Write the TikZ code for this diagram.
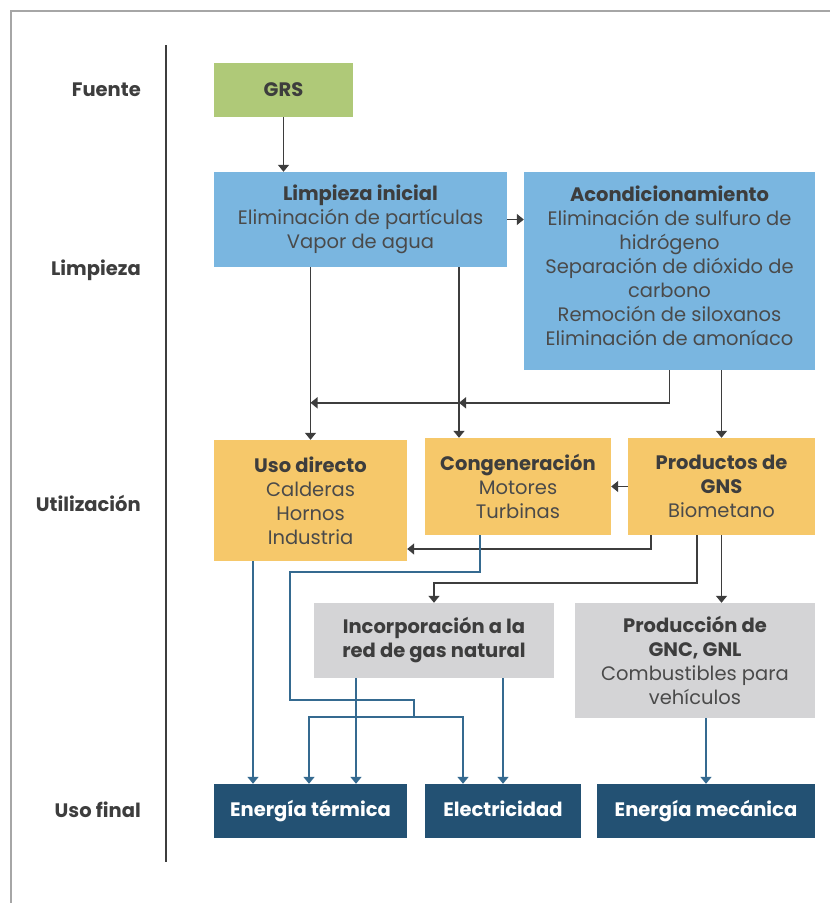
\documentclass[tikz,border=0pt]{standalone}
\usepackage{fontspec}
\setmainfont{Poppins}
\usetikzlibrary{arrows.meta}

\definecolor{grsgreen}{HTML}{AFC978}
\definecolor{cleanblue}{HTML}{7AB6E0}
\definecolor{useyellow}{HTML}{F6C86A}
\definecolor{netgray}{HTML}{D4D4D6}
\definecolor{finalblue}{HTML}{235173}
\definecolor{linkblue}{HTML}{356A90}
\definecolor{darktxt}{HTML}{3D3D3D}
\definecolor{bodytxt}{HTML}{4A4A4A}

\begin{document}
\begin{tikzpicture}[x=1pt,y=-1pt,>={Triangle[width=11pt,length=7pt]},
  box/.style={inner sep=0pt,align=center,text=bodytxt,font=\fontsize{19.5}{24}\selectfont},
  greenbox/.style={box,fill=grsgreen},
  bluebox/.style={box,fill=cleanblue},
  yellowbox/.style={box,fill=useyellow},
  graybox/.style={box,fill=netgray},
  finalbox/.style={box,fill=finalblue,text=white,text height=14pt,text depth=4pt,
    font=\fontsize{19.5}{24}\selectfont\bfseries},
  rowlabel/.style={anchor=east,inner sep=0pt,text=darktxt,font=\fontsize{19.5}{24}\selectfont\bfseries},
  flow/.style={->,draw=darktxt,line width=1.5pt},
  useflow/.style={->,draw=linkblue,line width=1.5pt}]

  \useasboundingbox (0,0) rectangle (830,903);
  \draw[black!35,line width=2pt] (11,903) -- (11,11) -- (830,11);
  \draw[darktxt,line width=1.3pt] (166,45) -- (166,862);

  % rows
  \node[rowlabel] (fuente) at (141,90) {Fuente};
  \node[rowlabel] (limpieza) at (141,270) {Limpieza};
  \node[rowlabel] (utilizacion) at (141,503) {Utilización};
  \node[rowlabel] (usofinal) at (141,810) {Uso final};

  % boxes
  \node[greenbox,minimum width=139pt,minimum height=54pt] (grs) at (283.5,90)
    {\textcolor{darktxt}{\textbf{GRS}}};
  \node[bluebox,minimum width=293pt,minimum height=95pt] (limp) at (360.5,219.5)
    {\textcolor{darktxt}{\textbf{Limpieza inicial}}\\Eliminación de partículas\\Vapor de agua};
  \node[bluebox,minimum width=291pt,minimum height=198pt] (acond) at (669.5,271)
    {\textcolor{darktxt}{\textbf{Acondicionamiento}}\\Eliminación de sulfuro de\\hidrógeno\\Separación de dióxido de\\carbono\\Remoción de siloxanos\\Eliminación de amoníaco\\[-14pt]\mbox{}};
  \node[yellowbox,minimum width=193pt,minimum height=121pt] (uso) at (310.5,500.5)
    {\textcolor{darktxt}{\textbf{Uso directo}}\\Calderas\\Hornos\\Industria};
  \node[yellowbox,minimum width=186pt,minimum height=97pt] (cog) at (518,486.5)
    {\textcolor{darktxt}{\textbf{Congeneración}}\\Motores\\Turbinas};
  \node[yellowbox,minimum width=187pt,minimum height=97pt] (gns) at (721.5,486.5)
    {\textcolor{darktxt}{\textbf{Productos de}}\\\textcolor{darktxt}{\textbf{GNS}}\\Biometano};
  \node[graybox,minimum width=240pt,minimum height=75pt] (red) at (434,640.5)
    {\textcolor{darktxt}{\textbf{Incorporación a la}}\\\textcolor{darktxt}{\textbf{red de gas natural}}};
  \node[graybox,minimum width=240pt,minimum height=115pt] (gnc) at (695,660.5)
    {\textcolor{darktxt}{\textbf{Producción de}}\\\textcolor{darktxt}{\textbf{GNC, GNL}}\\Combustibles para\\vehículos};
  \node[finalbox,minimum width=193pt,minimum height=54pt] (term) at (310.5,811) {Energía térmica};
  \node[finalbox,minimum width=156pt,minimum height=54pt] (elec) at (503,811) {Electricidad};
  \node[finalbox,minimum width=218pt,minimum height=54pt] (mec) at (706,811) {Energía mecánica};

  % cleaning
  \draw[flow] (grs.south) -- (grs.south |- limp.north);
  \draw[flow] (limp.east) -- (limp.east -| acond.west);
  \draw[flow] (limp.south -| uso.north) -- (uso.north);
  \draw[flow] ([xshift=98.5pt]limp.south) -- ([xshift=-59pt]cog.north);
  \coordinate (k1) at ([yshift=37pt]uso.north);
  \coordinate (k2) at ([xshift=-59pt,yshift=35pt]cog.north);
  \draw[flow] (acond.south) |- (k2);
  \draw[flow] (k2) -- (k1);
  \draw[flow] (acond.south -| gns.north) -- (gns.north);

  % products
  \draw[flow] (gns.west) -- (cog.east);
  \draw[flow] ([xshift=23pt]gns.south west) |- ([yshift=-48.5pt]uso.east);
  \draw[flow] ([xshift=-24.5pt]gns.south) |- ([yshift=20pt]red.north) -- (red.north);
  \draw[flow] (gns.south) -- (gns.south |- gnc.north);

  % final use
  \draw[useflow] ([xshift=-57.5pt]uso.south) -- ([xshift=-57.5pt]term.north);
  \draw[draw=linkblue,line width=1.5pt] ([xshift=-38pt]cog.south) -- ++(0,37) -| ++(-190,128)
    -| ++(124,17) coordinate (split);
  \draw[useflow] (split) -| ([xshift=-1.5pt]term.north);
  \draw[useflow] (split) -| ([xshift=-40pt]elec.north);
  \draw[useflow] ([xshift=-78pt]red.south) -- ([xshift=45.5pt]term.north);
  \draw[useflow] ([xshift=69pt]red.south) -- (elec.north);
  \draw[useflow] (gnc.south -| mec.north) -- (mec.north);
\end{tikzpicture}
\end{document}
